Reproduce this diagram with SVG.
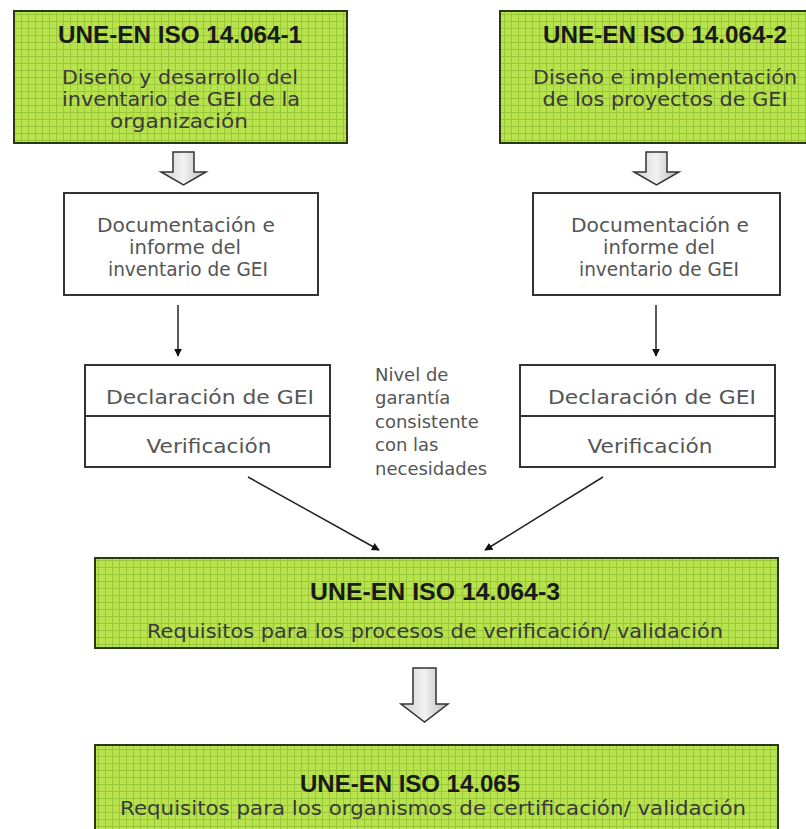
<svg xmlns="http://www.w3.org/2000/svg" width="806" height="829" viewBox="0 0 806 829">
<defs>
<pattern id="grid" width="7" height="7" patternUnits="userSpaceOnUse">
<rect width="7" height="7" fill="#b8e34c"/>
<path d="M0 0.5H7M0.5 0V7" stroke="#98c83a" stroke-width="1" fill="none"/>
</pattern>
<linearGradient id="ga" x1="0" x2="1" y1="0" y2="0">
<stop offset="0" stop-color="#cfcfcf"/>
<stop offset="0.5" stop-color="#f2f2f2"/>
<stop offset="1" stop-color="#b8b8b8"/>
</linearGradient>
<marker id="ah" viewBox="0 0 10 10" refX="9" refY="5" markerWidth="8" markerHeight="8" orient="auto" markerUnits="userSpaceOnUse">
<path d="M0 0L10 5L0 10Z" fill="#111"/>
</marker>
</defs>
<style>
.g{fill:url(#grid);stroke:#2a3a10;stroke-width:2}
.w{fill:#fff;stroke:#333;stroke-width:2}
.t{font-family:"Liberation Sans",Arial,sans-serif;font-weight:bold;font-size:24px;fill:#1a1a1a;text-anchor:middle}
.s{font-family:"DejaVu Sans",sans-serif;font-size:19.5px;fill:#3a3a3a;text-anchor:middle}
.n{font-family:"DejaVu Sans",sans-serif;font-size:19px;fill:#555;text-anchor:middle}
.m{font-family:"DejaVu Sans",sans-serif;font-size:18px;fill:#555}
.ba{fill:url(#ga);stroke:#333;stroke-width:1.5}
.c{stroke:#222;stroke-width:1.5;fill:none;marker-end:url(#ah)}
</style>
<rect width="806" height="829" fill="#fff"/>
<g id="iso1">
<rect class="g" x="14" y="11" width="333" height="132"/>
<text class="t" x="180" y="43" textLength="244" lengthAdjust="spacingAndGlyphs">UNE-EN ISO 14.064-1</text>
<text class="s" x="180" y="84" textLength="236" lengthAdjust="spacingAndGlyphs">Diseño y desarrollo del</text>
<text class="s" x="181" y="106" textLength="238" lengthAdjust="spacingAndGlyphs">inventario de GEI de la</text>
<text class="s" x="179" y="128" textLength="138" lengthAdjust="spacingAndGlyphs">organización</text>
</g>
<g id="iso2">
<rect class="g" x="500" y="11" width="310" height="132"/>
<text class="t" x="665" y="43" textLength="244" lengthAdjust="spacingAndGlyphs">UNE-EN ISO 14.064-2</text>
<text class="s" x="665" y="84" textLength="264" lengthAdjust="spacingAndGlyphs">Diseño e implementación</text>
<text class="s" x="665" y="106" textLength="245" lengthAdjust="spacingAndGlyphs">de los proyectos de GEI</text>
</g>
<g id="doc1">
<rect class="w" x="64" y="193" width="254" height="102"/>
<text class="n" x="186" y="232" textLength="178" lengthAdjust="spacingAndGlyphs">Documentación e</text>
<text class="n" x="185" y="254" textLength="112" lengthAdjust="spacingAndGlyphs">informe del</text>
<text class="n" x="188" y="276" textLength="160" lengthAdjust="spacingAndGlyphs">inventario de GEI</text>
</g>
<g id="doc2">
<rect class="w" x="533" y="193" width="247" height="102"/>
<text class="n" x="660" y="232" textLength="178" lengthAdjust="spacingAndGlyphs">Documentación e</text>
<text class="n" x="659" y="254" textLength="112" lengthAdjust="spacingAndGlyphs">informe del</text>
<text class="n" x="659" y="276" textLength="160" lengthAdjust="spacingAndGlyphs">inventario de GEI</text>
</g>
<g id="decl1">
<rect class="w" x="85" y="365" width="245" height="102"/>
<line x1="85" y1="416" x2="330" y2="416" stroke="#333" stroke-width="2"/>
<text class="n" x="210" y="404" textLength="208" lengthAdjust="spacingAndGlyphs">Declaración de GEI</text>
<text class="n" x="209" y="453" textLength="125" lengthAdjust="spacingAndGlyphs">Verificación</text>
</g>
<g id="decl2">
<rect class="w" x="520" y="365" width="255" height="102"/>
<line x1="520" y1="416" x2="775" y2="416" stroke="#333" stroke-width="2"/>
<text class="n" x="652" y="404" textLength="208" lengthAdjust="spacingAndGlyphs">Declaración de GEI</text>
<text class="n" x="650" y="453" textLength="125" lengthAdjust="spacingAndGlyphs">Verificación</text>
</g>
<g id="note">
<text class="m" x="375" y="381">Nivel de</text>
<text class="m" x="375" y="404">garantía</text>
<text class="m" x="375" y="428">consistente</text>
<text class="m" x="375" y="451">con las</text>
<text class="m" x="375" y="475">necesidades</text>
</g>
<g id="iso3">
<rect class="g" x="95" y="558" width="683" height="90"/>
<text class="t" x="435" y="600" textLength="250" lengthAdjust="spacingAndGlyphs">UNE-EN ISO 14.064-3</text>
<text class="s" x="435" y="638" textLength="576" lengthAdjust="spacingAndGlyphs">Requisitos para los procesos de verificación/ validación</text>
</g>
<g id="iso4">
<rect class="g" x="95" y="745" width="683" height="90"/>
<text class="t" x="410" y="792" textLength="220" lengthAdjust="spacingAndGlyphs">UNE-EN ISO 14.065</text>
<text class="s" x="433" y="815" textLength="626" lengthAdjust="spacingAndGlyphs">Requisitos para los organismos de  certificación/ validación</text>
</g>
<g id="connectors">
<path class="ba" d="M173 152H194V172H206L183.5 185L161 172H173Z"/>
<path class="ba" d="M646 152H667V172H679L656.5 185L634 172H646Z"/>
<path class="ba" d="M413 668H436V704H448L424.5 722L401 704H413Z"/>
<line class="c" x1="178" y1="305" x2="178" y2="356"/>
<line class="c" x1="656" y1="305" x2="656" y2="356"/>
<line class="c" x1="248" y1="477" x2="379" y2="550"/>
<line class="c" x1="603" y1="477" x2="485" y2="550"/>
</g>
</svg>
